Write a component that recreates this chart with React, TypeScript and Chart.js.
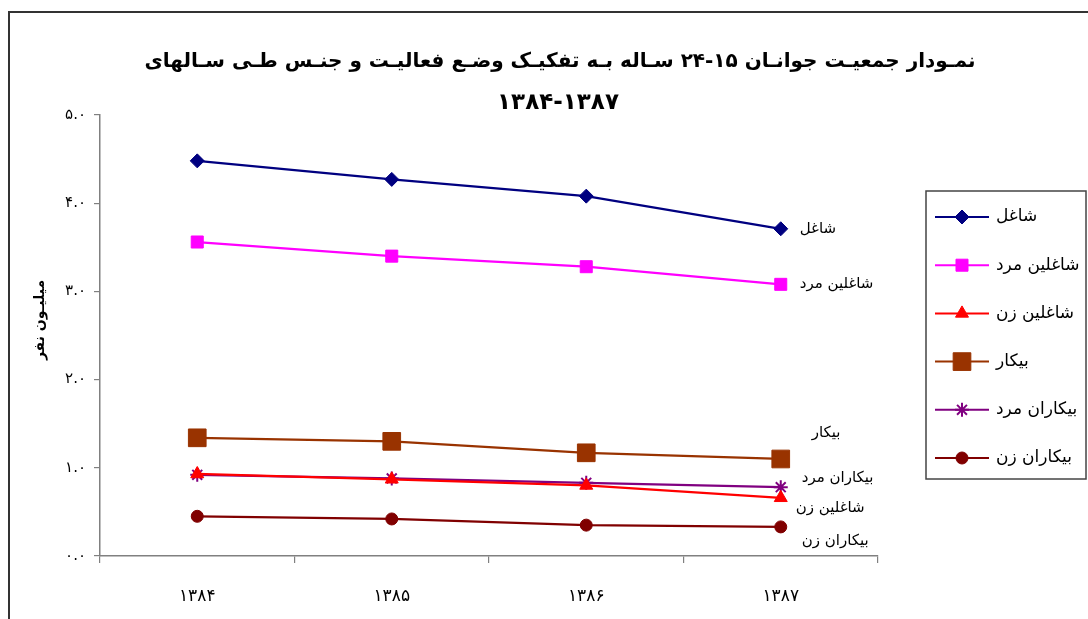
import React, { useEffect, useRef } from 'react';
import { Chart, registerables } from 'chart.js';
import { drawPoint } from 'chart.js/helpers';

Chart.register(...registerables);

// ---------- data ----------
const TITLE_LINES = [
  'نمـودار جمعیـت جوانـان ۱۵-۲۴ سـاله بـه تفکیـک وضـع فعالیـت و جنـس طـی سـالهای',
  '۱۳۸۴-۱۳۸۷',
];
const Y_TITLE = 'میلیـون نفر';
const years = ['۱۳۸۴', '۱۳۸۵', '۱۳۸۶', '۱۳۸۷'];
const seriesNames = ['شاغل', 'شاغلین مرد', 'شاغلین زن', 'بیکار', 'بیکاران مرد', 'بیکاران زن'];
const employed = [4.48, 4.27, 4.08, 3.71];
const employedMale = [3.56, 3.4, 3.28, 3.08];
const employedFemale = [0.93, 0.87, 0.8, 0.66];
const unemployed = [1.34, 1.3, 1.17, 1.1];
const unemployedMale = [0.92, 0.88, 0.83, 0.78];
const unemployedFemale = [0.45, 0.42, 0.35, 0.33];
const yMin = 0;
const yMax = 5;
const yStep = 1;

// ---------- styles ----------
const FONT = "'DejaVu Sans', sans-serif";
const colors = ['#000080', '#FF00FF', '#FF0000', '#993300', '#800080', '#800000'];
const pointStyles = ['rectRot', 'rect', 'triangle', 'rect', 'star', 'circle'];
const pointRadii = [7, 8.5, 7.5, 12.5, 7, 6];
// label offsets (px) relative to each series' last point
const labelOffsets = [
  [19, 0],
  [19, 0],
  [15, 10],
  [31, -26],
  [21, -9],
  [21, 14],
];

const toFa = (s: string) => s.replace(/[0-9]/g, (d) => '۰۱۲۳۴۵۶۷۸۹'[Number(d)]);

const framePlugin = {
  id: 'frame',
  beforeDraw(chart: any) {
    const ctx = chart.ctx;
    ctx.save();
    ctx.fillStyle = '#ffffff';
    ctx.fillRect(0, 0, chart.width, chart.height);
    ctx.strokeStyle = '#333333';
    ctx.lineWidth = 2;
    ctx.beginPath();
    ctx.moveTo(9, chart.height + 5);
    ctx.lineTo(9, 12);
    ctx.lineTo(chart.width + 5, 12);
    ctx.stroke();
    ctx.restore();
  },
};

const textPlugin = {
  id: 'texts',
  afterDraw(chart: any) {
    const ctx = chart.ctx;
    ctx.save();
    // title
    ctx.fillStyle = '#000';
    ctx.textAlign = 'center';
    ctx.textBaseline = 'middle';
    ctx.font = `bold 20px ${FONT}`;
    ctx.fillText(TITLE_LINES[0], 560, 62);
    ctx.font = `bold 23px ${FONT}`;
    ctx.fillText(TITLE_LINES[1], 558, 103);
    // y title
    ctx.save();
    ctx.translate(40, 320);
    ctx.rotate(-Math.PI / 2);
    ctx.font = `bold 14px ${FONT}`;
    ctx.fillText(Y_TITLE, 0, 0);
    ctx.restore();

    // data labels at last point
    ctx.font = `15px ${FONT}`;
    ctx.textAlign = 'left';
    chart.data.datasets.forEach((ds: any, i: number) => {
      const meta = chart.getDatasetMeta(i);
      const pt = meta.data[meta.data.length - 1];
      ctx.fillText(seriesNames[i], pt.x + labelOffsets[i][0], pt.y + labelOffsets[i][1]);
    });

    // legend
    const lx = 926, ly = 191, lw = 160, lh = 288;
    ctx.strokeStyle = '#444';
    ctx.lineWidth = 1.5;
    ctx.strokeRect(lx, ly, lw, lh);
    ctx.font = `17px ${FONT}`;
    chart.data.datasets.forEach((ds: any, i: number) => {
      const cy = ly + 26 + i * 48.2;
      ctx.strokeStyle = ds.borderColor;
      ctx.lineWidth = 2;
      ctx.beginPath();
      ctx.moveTo(935, cy);
      ctx.lineTo(989, cy);
      ctx.stroke();
      ctx.fillStyle = ds.pointBackgroundColor;
      ctx.strokeStyle = ds.pointBorderColor;
      ctx.lineWidth = ds.pointBorderWidth;
      drawPoint(ctx, { pointStyle: ds.pointStyle, radius: ds.pointRadius, borderWidth: ds.pointBorderWidth, rotation: 0 } as any, 962, cy);
      ctx.fillStyle = '#000';
      ctx.fillText(seriesNames[i], 996, cy);
    });
    ctx.restore();
  },
};

export default function App() {
  const ref = useRef<HTMLCanvasElement>(null);
  useEffect(() => {
    const seriesData = [employed, employedMale, employedFemale, unemployed, unemployedMale, unemployedFemale];
    const chart = new Chart(ref.current!, {
      type: 'line',
      data: {
        labels: years,
        datasets: seriesData.map((d, i) => ({
          label: seriesNames[i],
          data: d,
          borderColor: colors[i],
          backgroundColor: colors[i],
          borderWidth: 2.25,
          pointStyle: pointStyles[i] as any,
          pointRadius: pointRadii[i],
          pointHoverRadius: pointRadii[i],
          pointBackgroundColor: colors[i],
          pointBorderColor: colors[i],
          pointBorderWidth: i === 4 ? 2 : 1,
          tension: 0,
          fill: false,
        })),
      },
      options: {
        responsive: false,
        animation: false,
        events: [],
        layout: { padding: { top: 115, right: 210, bottom: 0, left: 0 } },
        plugins: {
          legend: { display: false },
          title: { display: false },
          tooltip: { enabled: false },
        },
        scales: {
          x: {
            type: 'category',
            offset: true,
            grid: { offset: true, drawOnChartArea: false, drawTicks: true, tickLength: 7, color: '#808080', lineWidth: 1.2 },
            border: { color: '#808080', width: 1.5 },
            ticks: { padding: 23, color: '#000', font: { family: FONT, size: 17 }, maxRotation: 0 },
            afterFit: (s: any) => { s.height = 63; },
          },
          y: {
            min: yMin,
            max: yMax,
            grid: { drawOnChartArea: false, drawTicks: true, tickLength: 6, color: '#808080', lineWidth: 1.2 },
            border: { color: '#808080', width: 1.5 },
            ticks: {
              stepSize: yStep,
              padding: 8,
              color: '#000',
              font: { family: FONT, size: 15 },
              callback: (v: any) => toFa(Number(v).toFixed(1)),
            },
            afterFit: (s: any) => { s.width = 100; },
          },
        },
      },
      plugins: [framePlugin, textPlugin],
    });
    return () => chart.destroy();
  }, []);
  return (
    <canvas
      ref={ref}
      width={1088}
      height={619}
      style={{ position: 'fixed', left: 0, top: 0, width: 1088, height: 619, display: 'block' }}
    />
  );
}
